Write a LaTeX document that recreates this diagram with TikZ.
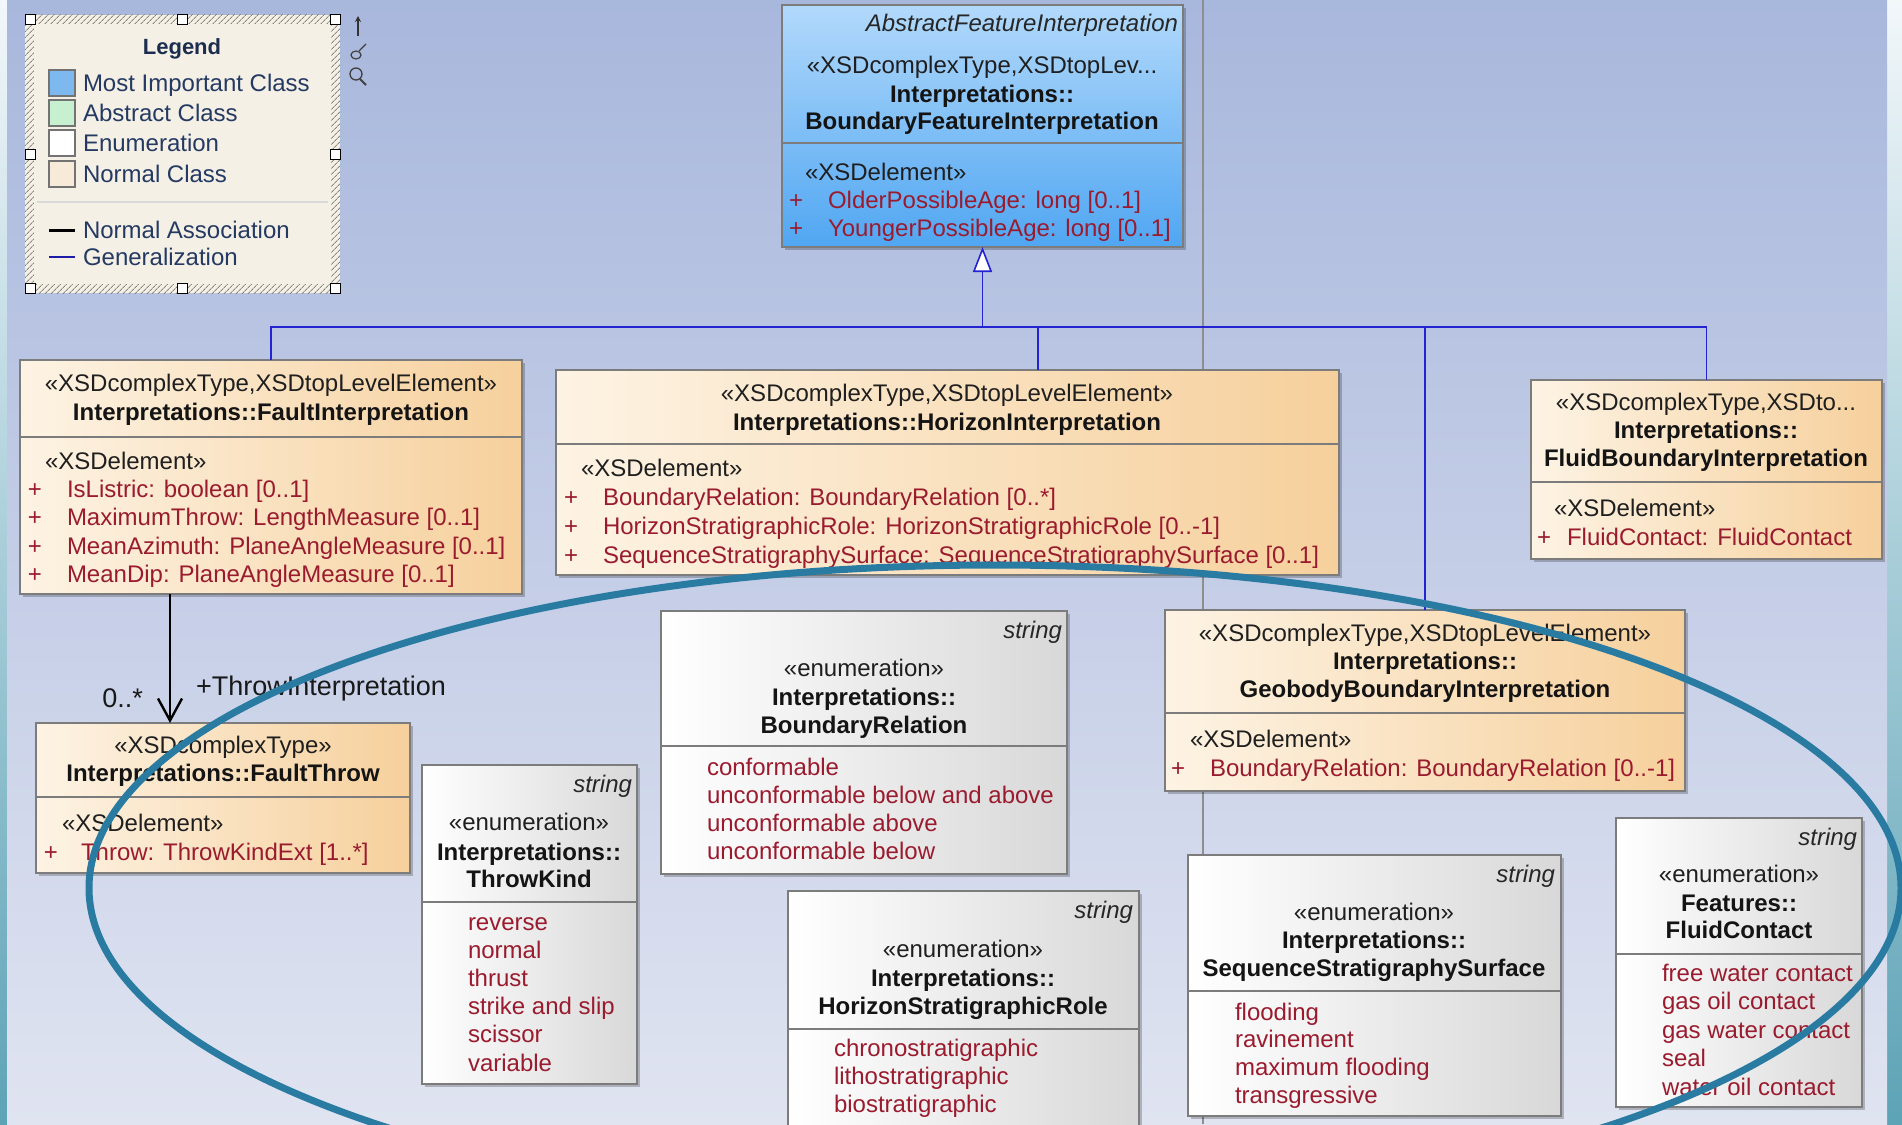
\documentclass[tikz,border=0pt]{standalone}
\usepackage{fontspec}
\setmainfont{Liberation Sans}
\usetikzlibrary{arrows.meta,patterns.meta,shadows}

\definecolor{canvTop}{HTML}{A8B7DC}
\definecolor{canvBot}{HTML}{E0E4F1}
\definecolor{stripTop}{HTML}{F2F7FA}
\definecolor{stripMid}{HTML}{D3E6EE}
\definecolor{stripBot}{HTML}{5DA3B6}
\definecolor{peachL}{HTML}{FDF3E4}
\definecolor{peachR}{HTML}{F6D09C}
\definecolor{enumR}{HTML}{D8D8D8}
\definecolor{bfiTop}{HTML}{B2D9FB}
\definecolor{bfiBot}{HTML}{50A6F2}
\definecolor{boxLine}{HTML}{7C7C7C}
\definecolor{attrRed}{HTML}{9A1B2E}
\definecolor{genBlue}{HTML}{2323D2}
\definecolor{legInk}{HTML}{243A62}
\definecolor{legTitle}{HTML}{1C2D4F}
\definecolor{legFill}{HTML}{F5F0E6}
\definecolor{hatchGray}{HTML}{8A877E}
\definecolor{ringTeal}{HTML}{2A7BA2}
\definecolor{sepGray}{HTML}{8E8E8E}
\definecolor{impBlue}{HTML}{7DB9EE}
\definecolor{absGreen}{HTML}{C6F0CF}
\definecolor{normCream}{HTML}{F7EAD8}

\tikzset{
  box/.style={draw=boxLine, line width=1.5pt, inner sep=0pt, outer sep=0pt, anchor=north west,
    drop shadow={shadow xshift=3pt, shadow yshift=-3pt, opacity=0.22, fill=black}},
  cls/.style={box, left color=peachL, right color=peachR},
  enm/.style={box, left color=white, right color=enumR},
  topcls/.style={box, top color=bfiTop, bottom color=bfiBot},
  sepline/.style={draw=boxLine, line width=1.5pt},
  lbl/.style={inner sep=0pt, outer sep=0pt, font=\fontsize{24}{28}\selectfont},
  stereo/.style={lbl, anchor=base, text=black!88},
  cname/.style={lbl, anchor=base, font=\fontsize{24}{28}\selectfont\bfseries, text=black!92},
  basetype/.style={lbl, anchor=base east, font=\fontsize{24}{28}\selectfont\itshape, text=black!85},
  elemst/.style={lbl, anchor=base west, text=black!88},
  plus/.style={lbl, anchor=base, text=attrRed},
  attr/.style={lbl, anchor=base west, text=attrRed},
  lit/.style={lbl, anchor=base west, text=attrRed},
  gen/.style={draw=genBlue, line width=1.6pt},
  assoc/.style={draw=black, line width=2.4pt, -{Straight Barb[length=22pt,width=24pt,line width=2.4pt]}},
  rolelbl/.style={inner sep=0pt, outer sep=0pt, font=\fontsize{27}{32}\selectfont, text=black!90},
  handle/.style={draw=black, fill=white, minimum size=10pt, inner sep=0pt, line width=1pt},
  swatch/.style={draw=black!55, line width=1.2pt, minimum size=26pt, inner sep=0pt},
  legtxt/.style={inner sep=0pt, outer sep=0pt, anchor=base west, font=\fontsize{24}{28}\selectfont, text=legInk},
  ring/.style={draw=ringTeal, line width=7pt}
}

% one attribute row: name, x of "+", x of text, baseline, text
\newcommand\attrline[5]{%
  \node[plus] (#1-p) at (#2,#4) {+};
  \node[attr] (#1) at (#3,#4) {#5};}

\begin{document}
\begin{tikzpicture}[x=1pt,y=-1pt]
\useasboundingbox (0,0) rectangle (1902,1124);
\clip (0,0) rectangle (1902,1124);

% backdrop and diagram canvas
\node[anchor=north west, minimum width=1902pt, minimum height=1124pt, inner sep=0pt, outer sep=0pt,
  top color=stripTop, middle color=stripMid, bottom color=stripBot] (slide) at (0,0) {};
\node[anchor=north west, minimum width=1880pt, minimum height=1124pt, inner sep=0pt, outer sep=0pt,
  top color=canvTop, bottom color=canvBot] (canvas) at (7,0) {};

% diagram frame divider
\draw[sepGray, line width=2pt] (1203,0) -- (1203,1124);

% legend
\node[anchor=north west, minimum width=315pt, minimum height=278pt, inner sep=0pt, outer sep=0pt,
  fill=legFill, postaction={pattern={Lines[angle=45,distance=4pt,line width=1pt]}, pattern color=hatchGray}]
  (legend) at (25,15) {};
\node[minimum width=297pt, minimum height=260pt, inner sep=0pt, outer sep=0pt, fill=legFill]
  (legbody) at (legend.center) {};
\foreach \hx/\hy [count=\k] in {30/20,182/20,335/20,30/154,335/154,30/288,182/288,335/288}
  \node[handle] (hd\k) at (\hx,\hy) {};
\node[inner sep=0pt, anchor=base, font=\fontsize{22}{26}\selectfont\bfseries, text=legTitle]
  (legtitle) at (182,55) {Legend};
\foreach \c/\t/\yy [count=\k] in {impBlue/Most Important Class/83, absGreen/Abstract Class/113,
    white/Enumeration/143, normCream/Normal Class/174} {
  \node[swatch, fill=\c] (sw\k) at (62,\yy) {};
  \node[legtxt] (lt\k) at (83,{\yy+8}) {\t};
}
\draw[black!15, line width=1.5pt] (37,202) -- (328,202);
\draw[black, line width=3pt] (49,230) -- (75,230);
\node[legtxt] (lt5) at (83,238) {Normal Association};
\draw[genBlue!80!black, line width=1.5pt] (49,257) -- (75,257);
\node[legtxt] (lt6) at (83,265) {Generalization};

% small toolbar icons beside the legend
\draw[black!80, line width=1.2pt, -{Stealth[length=6pt,width=6pt]}] (358,36) -- (358,16);
\draw[black!75, line width=1.2pt] (356,55) ellipse [x radius=5pt, y radius=4pt];
\draw[black!75, line width=1.2pt] (359,51) -- (366,44);
\draw[black!75, line width=1.3pt] (356,74) circle [radius=6pt];
\draw[black!75, line width=2pt] (360,79) -- (366,85);

% ---------- classes ----------
% BoundaryFeatureInterpretation
\node[topcls, minimum width=401pt, minimum height=242pt] (bfi) at (782,5) {};
\draw[sepline] (bfi.west |- 0,143) -- (bfi.east |- 0,143);
\node[basetype] (bfi-abs) at (1178,32) {AbstractFeatureInterpretation};
\node[stereo] (bfi-st) at (982,74) {«XSDcomplexType,XSDtopLev...};
\node[cname] (bfi-pk) at (982,102) {Interpretations::};
\node[cname] (bfi-nm) at (982,129) {BoundaryFeatureInterpretation};
\node[elemst] (bfi-el) at (805,180) {«XSDelement»};
\attrline{bfi-a1}{796}{828}{208}{OlderPossibleAge: long [0..1]}
\attrline{bfi-a2}{796}{828}{236}{YoungerPossibleAge: long [0..1]}

% FaultInterpretation
\node[cls, minimum width=502pt, minimum height=234pt] (fi) at (20,360) {};
\draw[sepline] (fi.west |- 0,437) -- (fi.east |- 0,437);
\node[stereo] (fi-st) at (271,391) {«XSDcomplexType,XSDtopLevelElement»};
\node[cname] (fi-nm) at (271,420) {Interpretations::FaultInterpretation};
\node[elemst] (fi-el) at (45,469) {«XSDelement»};
\attrline{fi-a1}{35}{67}{497}{IsListric: boolean [0..1]}
\attrline{fi-a2}{35}{67}{525}{MaximumThrow: LengthMeasure [0..1]}
\attrline{fi-a3}{35}{67}{554}{MeanAzimuth: PlaneAngleMeasure [0..1]}
\attrline{fi-a4}{35}{67}{582}{MeanDip: PlaneAngleMeasure [0..1]}

% HorizonInterpretation
\node[cls, minimum width=783pt, minimum height=205pt] (hi) at (556,370) {};
\draw[sepline] (hi.west |- 0,444) -- (hi.east |- 0,444);
\node[stereo] (hi-st) at (947,401) {«XSDcomplexType,XSDtopLevelElement»};
\node[cname] (hi-nm) at (947,430) {Interpretations::HorizonInterpretation};
\node[elemst] (hi-el) at (581,476) {«XSDelement»};
\attrline{hi-a1}{571}{603}{505}{BoundaryRelation: BoundaryRelation [0..*]}
\attrline{hi-a2}{571}{603}{534}{HorizonStratigraphicRole: HorizonStratigraphicRole [0..-1]}
\attrline{hi-a3}{571}{603}{563}{SequenceStratigraphySurface: SequenceStratigraphySurface [0..1]}

% FluidBoundaryInterpretation
\node[cls, minimum width=351pt, minimum height=179pt] (fbi) at (1531,380) {};
\draw[sepline] (fbi.west |- 0,482) -- (fbi.east |- 0,482);
\node[stereo] (fbi-st) at (1706,410) {«XSDcomplexType,XSDto...};
\node[cname] (fbi-pk) at (1706,438) {Interpretations::};
\node[cname] (fbi-nm) at (1706,466) {FluidBoundaryInterpretation};
\node[elemst] (fbi-el) at (1554,516) {«XSDelement»};
\attrline{fbi-a1}{1544}{1567}{545}{FluidContact: FluidContact}

% GeobodyBoundaryInterpretation
\node[cls, minimum width=520pt, minimum height=181pt] (gbi) at (1165,610) {};
\draw[sepline] (gbi.west |- 0,713) -- (gbi.east |- 0,713);
\node[stereo] (gbi-st) at (1425,641) {«XSDcomplexType,XSDtopLevelElement»};
\node[cname] (gbi-pk) at (1425,669) {Interpretations::};
\node[cname] (gbi-nm) at (1425,697) {GeobodyBoundaryInterpretation};
\node[elemst] (gbi-el) at (1190,747) {«XSDelement»};
\attrline{gbi-a1}{1178}{1210}{776}{BoundaryRelation: BoundaryRelation [0..-1]}

% FaultThrow
\node[cls, minimum width=374pt, minimum height=150pt] (ft) at (36,723) {};
\draw[sepline] (ft.west |- 0,797) -- (ft.east |- 0,797);
\node[stereo] (ft-st) at (223,753) {«XSDcomplexType»};
\node[cname] (ft-nm) at (223,781) {Interpretations::FaultThrow};
\node[elemst] (ft-el) at (62,831) {«XSDelement»};
\attrline{ft-a1}{51}{81}{860}{Throw: ThrowKindExt [1..*]}

% ---------- enumerations ----------
% BoundaryRelation
\node[enm, minimum width=406pt, minimum height=263pt] (br) at (661,611) {};
\draw[sepline] (br.west |- 0,746) -- (br.east |- 0,746);
\node[basetype] (br-bt) at (1062,638) {string};
\node[stereo] (br-st) at (864,676) {«enumeration»};
\node[cname] (br-pk) at (864,705) {Interpretations::};
\node[cname] (br-nm) at (864,733) {BoundaryRelation};
\foreach \t [count=\i] in {conformable,unconformable below and above,unconformable above,unconformable below}
  \node[lit] (br-l\i) at (707,{775+28.3*(\i-1)}) {\t};

% ThrowKind
\node[enm, minimum width=215pt, minimum height=319pt] (tk) at (422,765) {};
\draw[sepline] (tk.west |- 0,902) -- (tk.east |- 0,902);
\node[basetype] (tk-bt) at (632,792) {string};
\node[stereo] (tk-st) at (529,830) {«enumeration»};
\node[cname] (tk-pk) at (529,860) {Interpretations::};
\node[cname] (tk-nm) at (529,887) {ThrowKind};
\foreach \t [count=\i] in {reverse,normal,thrust,strike and slip,scissor,variable}
  \node[lit] (tk-l\i) at (468,{930+28.2*(\i-1)}) {\t};

% HorizonStratigraphicRole
\node[enm, minimum width=351pt, minimum height=260pt] (hsr) at (788,891) {};
\draw[sepline] (hsr.west |- 0,1029) -- (hsr.east |- 0,1029);
\node[basetype] (hsr-bt) at (1133,918) {string};
\node[stereo] (hsr-st) at (963,957) {«enumeration»};
\node[cname] (hsr-pk) at (963,986) {Interpretations::};
\node[cname] (hsr-nm) at (963,1014) {HorizonStratigraphicRole};
\foreach \t [count=\i] in {chronostratigraphic,lithostratigraphic,biostratigraphic}
  \node[lit] (hsr-l\i) at (834,{1056+28*(\i-1)}) {\t};

% SequenceStratigraphySurface
\node[enm, minimum width=373pt, minimum height=261pt] (sss) at (1188,855) {};
\draw[sepline] (sss.west |- 0,991) -- (sss.east |- 0,991);
\node[basetype] (sss-bt) at (1555,882) {string};
\node[stereo] (sss-st) at (1374,920) {«enumeration»};
\node[cname] (sss-pk) at (1374,948) {Interpretations::};
\node[cname] (sss-nm) at (1374,976) {SequenceStratigraphySurface};
\foreach \t [count=\i] in {flooding,ravinement,maximum flooding,transgressive}
  \node[lit] (sss-l\i) at (1235,{1020+27.7*(\i-1)}) {\t};

% FluidContact
\node[enm, minimum width=246pt, minimum height=289pt] (fc) at (1616,818) {};
\draw[sepline] (fc.west |- 0,954) -- (fc.east |- 0,954);
\node[basetype] (fc-bt) at (1857,845) {string};
\node[stereo] (fc-st) at (1739,882) {«enumeration»};
\node[cname] (fc-pk) at (1739,911) {Features::};
\node[cname] (fc-nm) at (1739,938) {FluidContact};
\foreach \t [count=\i] in {free water contact,gas oil contact,gas water contact,seal,water oil contact}
  \node[lit] (fc-l\i) at (1662,{981+28.5*(\i-1)}) {\t};

% ---------- generalization tree ----------
\draw[gen] (fi.north) -- (fi.north |- 0,327) -- (fbi.north |- 0,327) -- (fbi.north);
\draw[gen] (1038,327) -- (1038,0 |- hi.north);
\draw[gen] (gbi.north |- 0,327) -- (gbi.north);
\draw[gen, -{Triangle[length=25pt,width=19pt,fill=white,line width=1.6pt]}]
  (bfi.south |- 0,327) -- (bfi.south);

% ---------- association ----------
\draw[assoc] (170,0 |- fi.south) -- (170,0 |- ft.north);
\node[rolelbl, anchor=base east] (mult) at (143,707) {0..*};
\node[rolelbl, anchor=base west] (role) at (196,695) {+ThrowInterpretation};

% ---------- highlight ring ----------
\draw[ring] (995,888) ellipse [x radius=906pt, y radius=323pt];
\end{tikzpicture}
\end{document}
